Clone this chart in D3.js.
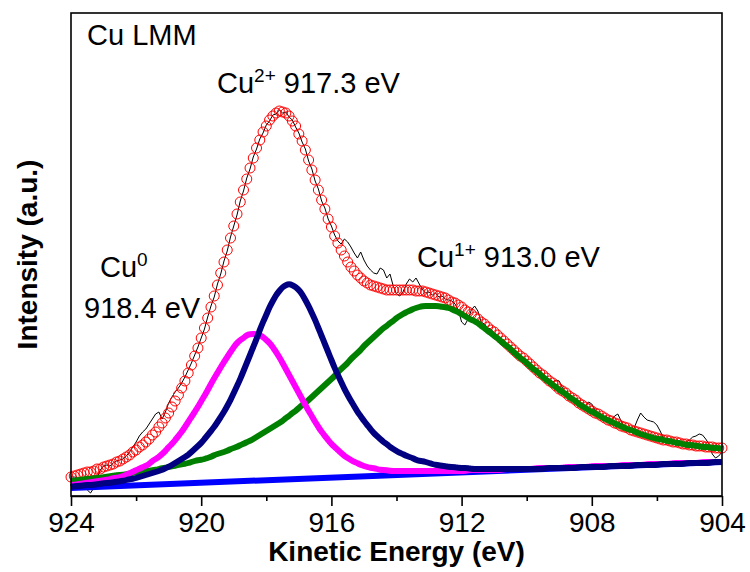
<!DOCTYPE html>
<html>
<head>
<meta charset="utf-8">
<script src="https://cdn.jsdelivr.net/npm/d3@7"></script>
<style>
  body { margin: 0; background: #fff; }
  text { font-family: "Liberation Sans", Arial, sans-serif; fill: #000; }
</style>
</head>
<body>
<svg width="750" height="572"></svg>
<script>
// kinetic energy grid (eV), 0.1 eV step
const energy = [
  924.0,923.9,923.8,923.7,923.6,923.5,923.4,923.3,923.2,923.1,
  923.0,922.9,922.8,922.7,922.6,922.5,922.4,922.3,922.2,922.1,
  922.0,921.9,921.8,921.7,921.6,921.5,921.4,921.3,921.2,921.1,
  921.0,920.9,920.8,920.7,920.6,920.5,920.4,920.3,920.2,920.1,
  920.0,919.9,919.8,919.7,919.6,919.5,919.4,919.3,919.2,919.1,
  919.0,918.9,918.8,918.7,918.6,918.5,918.4,918.3,918.2,918.1,
  918.0,917.9,917.8,917.7,917.6,917.5,917.4,917.3,917.2,917.1,
  917.0,916.9,916.8,916.7,916.6,916.5,916.4,916.3,916.2,916.1,
  916.0,915.9,915.8,915.7,915.6,915.5,915.4,915.3,915.2,915.1,
  915.0,914.9,914.8,914.7,914.6,914.5,914.4,914.3,914.2,914.1,
  914.0,913.9,913.8,913.7,913.6,913.5,913.4,913.3,913.2,913.1,
  913.0,912.9,912.8,912.7,912.6,912.5,912.4,912.3,912.2,912.1,
  912.0,911.9,911.8,911.7,911.6,911.5,911.4,911.3,911.2,911.1,
  911.0,910.9,910.8,910.7,910.6,910.5,910.4,910.3,910.2,910.1,
  910.0,909.9,909.8,909.7,909.6,909.5,909.4,909.3,909.2,909.1,
  909.0,908.9,908.8,908.7,908.6,908.5,908.4,908.3,908.2,908.1,
  908.0,907.9,907.8,907.7,907.6,907.5,907.4,907.3,907.2,907.1,
  907.0,906.9,906.8,906.7,906.6,906.5,906.4,906.3,906.2,906.1,
  906.0,905.9,905.8,905.7,905.6,905.5,905.4,905.3,905.2,905.1,
  905.0,904.9,904.8,904.7,904.6,904.5,904.4,904.3,904.2,904.1,
  904.0
];

// measured spectrum (black line)
const raw = [
  19,19,18,16,12,6,3,8,18,26,
  30,31,30,33,35,36,37,40,44,49,
  54,60,64,67,72,77,82,84,77,84,
  93,99,104,108,113,119,126,133,141,149,
  158,167,179,190,199,212,222,235,245,259,
  270,281,295,305,318,327,339,347,357,363,
  371,375,381,382,386,383,384,379,376,369,
  363,354,347,335,327,315,307,295,288,277,
  270,261,255,252,257,254,249,243,238,244,
  236,230,226,223,222,228,226,218,222,210,
  202,200,204,212,217,214,218,212,206,203,
  204,201,203,199,200,197,196,195,192,186,
  174,171,177,186,190,185,174,172,168,167,
  163,161,157,156,151,150,145,144,139,138,
  134,133,128,127,122,122,117,116,114,116,
  115,108,104,100,99,95,94,91,90,94,
  92,86,82,80,79,77,75,80,82,75,
  68,67,66,68,76,83,79,76,75,74,
  71,65,58,56,55,54,54,53,53,54,
  56,59,60,62,61,57,52,42,38,40,
  44
];

// cumulative fit (red circles)
const envelope = [
  19,20,21,22,23,24,24,25,27,27,
  29,30,31,32,34,35,37,39,41,44,
  46,49,51,54,57,61,64,69,73,78,
  83,89,95,101,108,115,123,131,140,148,
  158,168,178,189,200,211,223,234,246,258,
  270,282,294,306,317,328,338,348,356,364,
  370,376,380,383,385,384,383,380,375,370,
  362,355,346,336,326,316,306,296,287,277,
  269,260,253,246,240,234,229,225,221,218,
  215,213,211,210,209,208,207,206,206,206,
  206,206,206,206,206,206,205,205,205,204,
  203,202,201,200,199,198,196,194,193,191,
  189,186,184,182,179,177,174,172,169,166,
  164,161,158,155,152,149,146,143,140,138,
  135,132,129,126,123,121,118,115,113,110,
  107,105,103,100,98,96,93,91,89,87,
  85,83,82,80,78,76,75,73,72,70,
  69,68,66,65,64,63,62,61,60,59,
  58,57,56,56,55,54,54,53,52,52,
  51,51,50,50,50,49,49,49,48,48,
  48
];

// Cu0 component, 918.4 eV (magenta)
const cu0 = [
  11,11,12,12,13,13,14,14,15,15,
  16,16,17,18,18,19,20,21,23,24,
  26,27,29,30,32,35,37,39,42,45,
  49,52,56,60,64,69,74,79,84,89,
  95,100,106,112,118,123,129,134,139,144,
  149,153,156,158,161,162,162,162,161,159,
  156,153,149,144,139,133,127,121,115,109,
  103,97,91,85,80,74,69,64,60,56,
  52,49,46,43,40,38,36,34,33,31,
  30,29,28,28,27,26,26,26,25,25,
  25,25,25,25,25,25,25,25,25,25,
  25,25,25,25,25,25,25,25,25,25,
  25,25,26,26,26,26,26,26,26,26,
  26,26,26,27,27,27,27,27,27,27,
  27,27,27,28,28,28,28,28,28,28,
  28,28,29,29,29,29,29,29,29,29,
  30,30,30,30,30,30,30,30,30,31,
  31,31,31,31,31,31,31,32,32,32,
  32,32,32,32,32,33,33,33,33,33,
  33,33,33,33,34,34,34,34,34,34,
  34
];

// Cu2+ component, 917.3 eV (navy)
const cu2 = [
  9,10,10,10,11,11,11,11,12,12,
  13,13,13,14,14,15,15,16,17,17,
  18,19,20,21,22,23,24,25,26,28,
  29,31,33,35,37,39,41,44,47,50,
  53,57,61,65,69,74,79,84,90,96,
  103,110,117,125,133,141,149,157,166,174,
  181,189,195,201,205,209,211,212,211,209,
  206,202,196,190,183,176,168,160,152,144,
  136,128,121,114,107,101,95,90,84,80,
  75,71,67,63,60,57,54,52,49,47,
  45,43,42,40,39,38,36,35,35,34,
  33,32,31,31,30,30,29,29,29,28,
  28,28,28,27,27,27,27,27,27,27,
  27,27,27,27,27,27,27,27,27,27,
  27,27,27,27,27,27,28,28,28,28,
  28,28,28,28,28,28,29,29,29,29,
  29,29,29,29,29,30,30,30,30,30,
  30,30,30,31,31,31,31,31,31,31,
  31,32,32,32,32,32,32,32,32,33,
  33,33,33,33,33,33,33,34,34,34,
  34
];

// Cu1+ component, 913.0 eV (green)
const cu1 = [
  15,15,16,16,17,17,17,18,18,18,
  19,19,20,20,21,21,21,22,22,23,
  24,24,24,25,25,26,26,27,28,28,
  29,30,30,31,32,32,33,34,35,36,
  36,37,38,39,41,42,43,44,45,47,
  48,49,51,52,54,55,57,59,61,63,
  65,67,69,71,73,75,78,80,83,85,
  88,91,93,96,99,102,105,108,111,114,
  117,120,124,127,130,133,137,140,143,146,
  150,153,156,159,162,165,168,170,173,175,
  178,180,182,184,185,187,188,189,190,190,
  190,190,190,190,189,189,188,187,185,184,
  182,180,178,176,175,173,170,168,165,163,
  160,158,155,152,150,147,144,141,138,136,
  133,130,127,125,122,119,116,114,111,109,
  106,104,102,99,97,95,92,90,88,86,
  84,83,81,79,77,76,74,73,71,70,
  68,67,66,65,63,62,61,60,59,58,
  57,57,56,55,55,54,53,53,52,51,
  51,51,50,50,49,49,49,48,48,48,
  47
];

// linear background (blue)
const bgEnergy = [924, 904];
const bgValue = [8, 34];

const majorTicks = [924, 920, 916, 912, 908, 904];
const minorTicks = [922, 918, 914, 910, 906];

const svg = d3.select("svg");

const x = d3.scaleLinear().domain([924, 904]).range([71, 722]);
const y = d3.scaleLinear().domain([0, 483]).range([496, 13]);

const pairs = vals => energy.map((e, i) => [e, vals[i]]);

const smooth = d3.line()
    .x(d => x(d[0]))
    .y(d => y(d[1]))
    .curve(d3.curveBasis);

const straight = d3.line()
    .x(d => x(d[0]))
    .y(d => y(d[1]));

//====== raw data ======
svg.append("path")
    .datum(pairs(raw))
    .attr("d", straight)
    .attr("fill", "none")
    .attr("stroke", "#000")
    .attr("stroke-width", 1);

//====== fit envelope (hollow circles) ======
svg.append("g")
    .selectAll("circle")
    .data(pairs(envelope))
    .enter().append("circle")
        .attr("cx", d => x(d[0]))
        .attr("cy", d => y(d[1]))
        .attr("r", 5)
        .attr("fill", "none")
        .attr("stroke", "#ff0000")
        .attr("stroke-width", 1);

//====== components ======
svg.append("path")
    .datum(pairs(cu1))
    .attr("d", smooth)
    .attr("fill", "none")
    .attr("stroke", "#008000")
    .attr("stroke-width", 6);

svg.append("path")
    .datum(bgEnergy.map((e, i) => [e, bgValue[i]]))
    .attr("d", straight)
    .attr("fill", "none")
    .attr("stroke", "#0000ff")
    .attr("stroke-width", 6);

svg.append("path")
    .datum(pairs(cu0))
    .attr("d", smooth)
    .attr("fill", "none")
    .attr("stroke", "#ff00ff")
    .attr("stroke-width", 6);

svg.append("path")
    .datum(pairs(cu2))
    .attr("d", smooth)
    .attr("fill", "none")
    .attr("stroke", "#000080")
    .attr("stroke-width", 6);

//====== frame & axis ======
svg.append("rect")
    .attr("x", x(924))
    .attr("y", y(483))
    .attr("width", x(904) - x(924))
    .attr("height", y(0) - y(483))
    .attr("fill", "none")
    .attr("stroke", "#000")
    .attr("stroke-width", 1.6);

const axisG = svg.append("g")
    .attr("transform", "translate(0," + y(0) + ")")
    .call(d3.axisBottom(x)
        .tickValues(majorTicks)
        .tickSize(10)
        .tickSizeOuter(0)
        .tickPadding(6)
        .tickFormat(d3.format("d")));

svg.append("g")
    .attr("transform", "translate(0," + y(0) + ")")
    .call(d3.axisBottom(x)
        .tickValues(minorTicks)
        .tickSize(5)
        .tickSizeOuter(0)
        .tickFormat(""))
    .select(".domain").remove();

svg.selectAll(".tick line").attr("stroke", "#000").attr("stroke-width", 1.6);
axisG.select(".domain").attr("stroke", "#000").attr("stroke-width", 1.6);
axisG.selectAll(".tick text")
    .attr("font-family", "Liberation Sans, Arial, sans-serif")
    .attr("font-size", 28)
    .attr("fill", "#000");

//====== titles ======
svg.append("text")
    .attr("x", (x(924) + x(904)) / 2)
    .attr("y", 561)
    .attr("text-anchor", "middle")
    .attr("font-size", 28)
    .attr("font-weight", "bold")
    .text("Kinetic Energy (eV)");

svg.append("text")
    .attr("transform", "translate(37," + (y(0) + y(483)) / 2 + ") rotate(-90)")
    .attr("text-anchor", "middle")
    .attr("font-size", 28)
    .attr("font-weight", "bold")
    .text("Intensity (a.u.)");

//====== annotations ======
function label(px, py, base, sup, rest) {
    const t = svg.append("text")
        .attr("x", px)
        .attr("y", py)
        .attr("font-size", 29);
    t.append("tspan").text(base);
    if (sup) {
        t.append("tspan").attr("font-size", 19).attr("dy", -11).text(sup);
        if (rest) t.append("tspan").attr("dy", 11).text(rest);
    }
}

label(87, 45, "Cu LMM");
label(217, 93, "Cu", "2+", " 917.3 eV");
label(100, 277, "Cu", "0");
label(84, 318, "918.4 eV");
label(417, 267, "Cu", "1+", " 913.0 eV");
</script>
</body>
</html>
